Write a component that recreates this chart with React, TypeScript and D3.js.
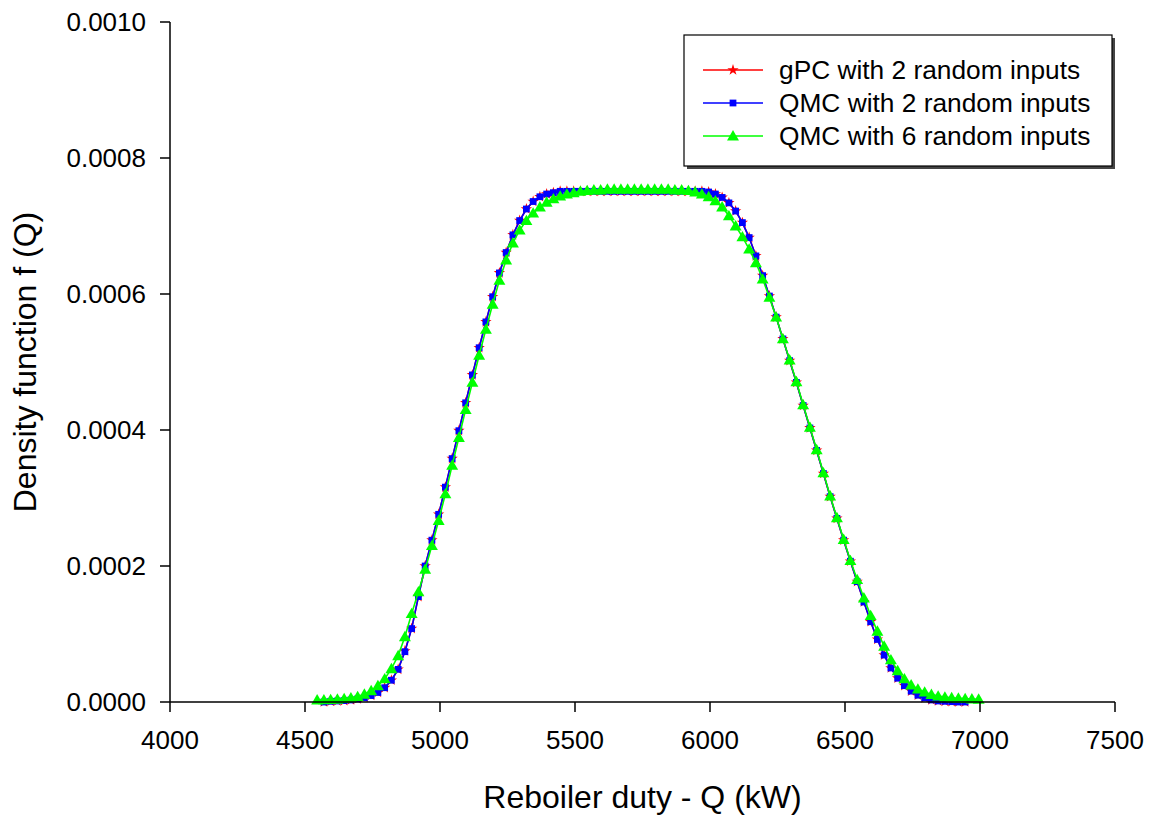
import React from "react";
import * as d3 from "d3";

// Reboiler duty grid (kW)
const qGrid: number[] = [
  4545, 4570, 4595, 4620, 4645, 4670, 4695, 4720, 4745, 4770,
  4795, 4820, 4845, 4870, 4895, 4920, 4945, 4970, 4995, 5020,
  5045, 5070, 5095, 5120, 5145, 5170, 5195, 5220, 5245, 5270,
  5295, 5320, 5345, 5370, 5395, 5420, 5445, 5470, 5495, 5520,
  5545, 5570, 5595, 5620, 5645, 5670, 5695, 5720, 5745, 5770,
  5795, 5820, 5845, 5870, 5895, 5920, 5945, 5970, 5995, 6020,
  6045, 6070, 6095, 6120, 6145, 6170, 6195, 6220, 6245, 6270,
  6295, 6320, 6345, 6370, 6395, 6420, 6445, 6470, 6495, 6520,
  6545, 6570, 6595, 6620, 6645, 6670, 6695, 6720, 6745, 6770,
  6795, 6820, 6845, 6870, 6895, 6920, 6945, 6970, 6995,
];

// QMC with 6 random inputs (green)
const qmc6Density: number[] = [
  3.0e-6, 3.2e-6, 3.6e-6, 4.0e-6, 5.0e-6, 6.2e-6, 8.0e-6, 1.15e-5, 1.65e-5, 2.4e-5,
  3.4e-5, 4.9e-5, 6.8e-5, 9.6e-5, 1.30e-4, 1.62e-4, 1.95e-4, 2.30e-4, 2.67e-4, 3.06e-4,
  3.48e-4, 3.89e-4, 4.30e-4, 4.70e-4, 5.10e-4, 5.48e-4, 5.85e-4, 6.20e-4, 6.50e-4, 6.75e-4,
  6.94e-4, 7.08e-4, 7.19e-4, 7.28e-4, 7.35e-4, 7.40e-4, 7.44e-4, 7.47e-4, 7.49e-4, 7.51e-4,
  7.52e-4, 7.53e-4, 7.53e-4, 7.54e-4, 7.54e-4, 7.54e-4, 7.54e-4, 7.54e-4, 7.54e-4, 7.54e-4,
  7.54e-4, 7.54e-4, 7.54e-4, 7.53e-4, 7.53e-4, 7.52e-4, 7.50e-4, 7.47e-4, 7.43e-4, 7.37e-4,
  7.28e-4, 7.15e-4, 7.00e-4, 6.84e-4, 6.66e-4, 6.46e-4, 6.22e-4, 5.95e-4, 5.66e-4, 5.34e-4,
  5.03e-4, 4.71e-4, 4.37e-4, 4.04e-4, 3.71e-4, 3.37e-4, 3.03e-4, 2.71e-4, 2.39e-4, 2.08e-4,
  1.80e-4, 1.53e-4, 1.27e-4, 1.04e-4, 8.2e-5, 6.2e-5, 4.6e-5, 3.4e-5, 2.5e-5, 1.9e-5,
  1.45e-5, 1.1e-5, 8.6e-6, 7.2e-6, 6.3e-6, 5.6e-6, 5.0e-6, 4.5e-6, 4.0e-6,
];

// QMC with 2 random inputs (blue), grid 4570..6945
const qmc2Density: number[] = [
  0, 1.0e-6, 1.5e-6, 2.0e-6, 3.0e-6, 4.5e-6, 6.5e-6, 9.5e-6, 1.4e-5, 2.1e-5,
  3.2e-5, 4.8e-5, 7.4e-5, 1.08e-4, 1.55e-4, 2.00e-4, 2.38e-4, 2.76e-4, 3.16e-4, 3.58e-4,
  3.99e-4, 4.40e-4, 4.81e-4, 5.21e-4, 5.59e-4, 5.96e-4, 6.31e-4, 6.61e-4, 6.87e-4, 7.08e-4,
  7.25e-4, 7.36e-4, 7.43e-4, 7.47e-4, 7.49e-4, 7.51e-4, 7.51e-4, 7.51e-4, 7.51e-4, 7.51e-4,
  7.51e-4, 7.51e-4, 7.51e-4, 7.51e-4, 7.51e-4, 7.51e-4, 7.51e-4, 7.51e-4, 7.51e-4, 7.51e-4,
  7.51e-4, 7.51e-4, 7.51e-4, 7.51e-4, 7.51e-4, 7.51e-4, 7.51e-4, 7.50e-4, 7.47e-4, 7.42e-4,
  7.34e-4, 7.22e-4, 7.05e-4, 6.83e-4, 6.56e-4, 6.27e-4, 5.97e-4, 5.66e-4, 5.34e-4, 5.02e-4,
  4.70e-4, 4.36e-4, 4.03e-4, 3.70e-4, 3.36e-4, 3.02e-4, 2.70e-4, 2.38e-4, 2.07e-4, 1.77e-4,
  1.47e-4, 1.18e-4, 9.2e-5, 6.9e-5, 5.0e-5, 3.5e-5, 2.4e-5, 1.6e-5, 1.0e-5, 6.0e-6,
  3.0e-6, 1.5e-6, 1.0e-6, 5.0e-7, 0, 0,
];

// gPC with 2 random inputs (red), grid 4570..6945
const gpc2Density: number[] = [
  0, 1.0e-6, 1.5e-6, 2.0e-6, 3.0e-6, 4.6e-6, 6.6e-6, 9.6e-6, 1.4e-5, 2.1e-5,
  3.2e-5, 4.8e-5, 7.5e-5, 1.08e-4, 1.55e-4, 2.00e-4, 2.38e-4, 2.76e-4, 3.16e-4, 3.58e-4,
  3.99e-4, 4.40e-4, 4.81e-4, 5.21e-4, 5.59e-4, 5.96e-4, 6.31e-4, 6.61e-4, 6.87e-4, 7.08e-4,
  7.25e-4, 7.36e-4, 7.43e-4, 7.47e-4, 7.49e-4, 7.51e-4, 7.51e-4, 7.51e-4, 7.51e-4, 7.51e-4,
  7.51e-4, 7.51e-4, 7.51e-4, 7.51e-4, 7.51e-4, 7.51e-4, 7.51e-4, 7.51e-4, 7.51e-4, 7.51e-4,
  7.51e-4, 7.51e-4, 7.51e-4, 7.51e-4, 7.51e-4, 7.51e-4, 7.51e-4, 7.50e-4, 7.47e-4, 7.42e-4,
  7.34e-4, 7.22e-4, 7.05e-4, 6.83e-4, 6.56e-4, 6.27e-4, 5.97e-4, 5.66e-4, 5.34e-4, 5.02e-4,
  4.70e-4, 4.36e-4, 4.03e-4, 3.70e-4, 3.36e-4, 3.02e-4, 2.70e-4, 2.38e-4, 2.07e-4, 1.77e-4,
  1.47e-4, 1.18e-4, 9.2e-5, 6.9e-5, 5.0e-5, 3.5e-5, 2.4e-5, 1.6e-5, 1.0e-5, 6.0e-6,
  3.0e-6, 1.5e-6, 1.0e-6, 5.0e-7, 0, 0,
];

const xTicks: number[] = [4000, 4500, 5000, 5500, 6000, 6500, 7000, 7500];
const yTicks: number[] = [0, 0.0002, 0.0004, 0.0006, 0.0008, 0.001];

const seriesNames: string[] = [
  "gPC with 2 random inputs",
  "QMC with 2 random inputs",
  "QMC with 6 random inputs",
];
const seriesColors: string[] = ["#ff0000", "#0000ff", "#00ff00"];

const FONT = "Arial, 'Liberation Sans', sans-serif";

export default function App() {
  const W = 1151;
  const H = 818;
  const left = 170;
  const right = 1115;
  const top = 22;
  const bottom = 702;

  const x = d3.scaleLinear().domain([4000, 7500]).range([left, right]);
  const y = d3.scaleLinear().domain([0, 0.001]).range([bottom, top]);

  const qSub = qGrid.slice(1, 97);
  const series = [
    { q: qSub, d: gpc2Density, sym: d3.symbolStar, size: 40, color: seriesColors[0], dy: 0 },
    { q: qSub, d: qmc2Density, sym: d3.symbolSquare, size: 46, color: seriesColors[1], dy: 0 },
    { q: qGrid, d: qmc6Density, sym: d3.symbolTriangle, size: 62, color: seriesColors[2], dy: 1 },
  ];

  const line = d3
    .line<[number, number]>()
    .x((p) => x(p[0]))
    .y((p) => y(p[1]));

  const fmtY = (v: number) => v.toFixed(4);

  const legX = 684;
  const legY = 35;
  const legW = 428;
  const legH = 131;
  const rowY = [70, 103, 136];

  return (
    <div style={{ position: "absolute", left: 0, top: 0 }}>
      <svg width={W} height={H} style={{ display: "block", background: "#fff" }}>
        <rect x={0} y={0} width={W} height={H} fill="#fff" />
        {/* series */}
        {series.map((s, i) => {
          const pts: [number, number][] = s.q.map((q, j) => [q, s.d[j]]);
          const symPath = d3.symbol().type(s.sym).size(s.size)() as string;
          return (
            <g key={i}>
              <path d={line(pts) as string} fill="none" stroke={s.color} strokeWidth={1.6} />
              {pts.map((p, j) => (
                <path
                  key={j}
                  d={symPath}
                  transform={`translate(${x(p[0])},${y(p[1]) + s.dy})`}
                  fill={s.color}
                />
              ))}
            </g>
          );
        })}
        {/* axes */}
        <line x1={left} x2={left} y1={top} y2={bottom} stroke="#000" strokeWidth={1.5} />
        <line x1={left} x2={right} y1={bottom} y2={bottom} stroke="#000" strokeWidth={1.5} />
        {yTicks.map((t) => (
          <g key={"y" + t}>
            <line x1={left - 10} x2={left} y1={y(t)} y2={y(t)} stroke="#000" strokeWidth={1.5} />
            <text
              x={left - 24}
              y={y(t)}
              dy="0.36em"
              textAnchor="end"
              fontFamily={FONT}
              fontSize={26}
              fill="#000"
            >
              {fmtY(t)}
            </text>
          </g>
        ))}
        {xTicks.map((t) => (
          <g key={"x" + t}>
            <line x1={x(t)} x2={x(t)} y1={bottom} y2={bottom + 10} stroke="#000" strokeWidth={1.5} />
            <text
              x={x(t)}
              y={bottom + 47}
              textAnchor="middle"
              fontFamily={FONT}
              fontSize={26}
              fill="#000"
            >
              {t}
            </text>
          </g>
        ))}
        <text
          x={(left + right) / 2}
          y={808}
          textAnchor="middle"
          fontFamily={FONT}
          fontSize={32}
          fill="#000"
        >
          Reboiler duty - Q (kW)
        </text>
        <text
          transform={`translate(36,${(top + bottom) / 2}) rotate(-90)`}
          textAnchor="middle"
          fontFamily={FONT}
          fontSize={32}
          fill="#000"
        >
          Density function f (Q)
        </text>
        {/* legend */}
        <rect x={legX + 3} y={legY + 3} width={legW} height={legH} fill="#444" />
        <rect x={legX} y={legY} width={legW} height={legH} fill="#fff" stroke="#000" strokeWidth={1.2} />
        {series.map((s, i) => {
          const symPath = d3.symbol().type(s.sym).size(s.size)() as string;
          return (
            <g key={"leg" + i}>
              <line x1={703} x2={763} y1={rowY[i]} y2={rowY[i]} stroke={s.color} strokeWidth={1.6} />
              <path d={symPath} transform={`translate(733,${rowY[i] + s.dy})`} fill={s.color} />
              <text
                x={779}
                y={rowY[i]}
                dy="0.36em"
                fontFamily={FONT}
                fontSize={26.3}
                fill="#000"
              >
                {seriesNames[i]}
              </text>
            </g>
          );
        })}
      </svg>
    </div>
  );
}
